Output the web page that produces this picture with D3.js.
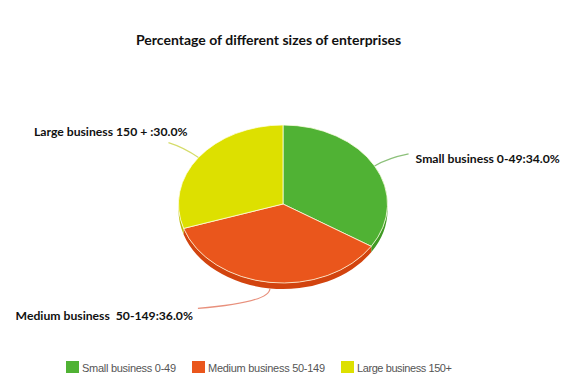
<!DOCTYPE html>
<html><head><meta charset="utf-8">
<script src="https://cdn.jsdelivr.net/npm/d3@7"></script>
<style>body{margin:0;background:#fff}svg{display:block}</style>
</head><body>
<svg id="c" width="569" height="385"></svg>
<script>
const categories = ["Small business 0-49", "Medium business 50-149", "Large business 150+"];
const values = [34, 36, 30];
const labelNames = ["Small business 0-49", "Medium business  50-149", "Large business 150 + "];
const title = "Percentage of different sizes of enterprises";
const topColors = ["#50b234", "#ea561c", "#dde000"];
const sideColors = ["#3f9a24", "#d2440f", "#b9bb00"];

const svg = d3.select("#c");
const cx = 283, cy = 204, rx = 104.5, ry = 79, depth = 6;

svg.append("text").attr("x", 136).attr("y", 45)
  .attr("font-family", "Lato, 'Open Sans', sans-serif").attr("font-weight", "bold")
  .attr("font-size", 14).attr("fill", "#111").text(title);

const color = d3.scaleOrdinal().domain(categories).range(topColors);
const side = d3.scaleOrdinal().domain(categories).range(sideColors);
const pie = d3.pie().sort(null).value(d => d.v);
const data = categories.map((c, i) => ({c, v: values[i], name: labelNames[i]}));
const arcs = pie(data);

const px = a => cx + rx * Math.sin(a);
const py = (a, dy = 0) => cy - ry * Math.cos(a) + dy;

function topPath(d) {
  const a0 = d.startAngle, a1 = d.endAngle;
  const large = (a1 - a0) > Math.PI ? 1 : 0;
  return `M${cx},${cy}L${px(a0)},${py(a0)}A${rx},${ry} 0 ${large} 1 ${px(a1)},${py(a1)}Z`;
}
function sidePath(d) {
  const a0 = Math.max(d.startAngle, Math.PI / 2), a1 = Math.min(d.endAngle, 3 * Math.PI / 2);
  if (a1 <= a0) return null;
  const large = (a1 - a0) > Math.PI ? 1 : 0;
  return `M${px(a0)},${py(a0)}A${rx},${ry} 0 ${large} 1 ${px(a1)},${py(a1)}` +
    `L${px(a1)},${py(a1, depth)}A${rx},${ry} 0 ${large} 0 ${px(a0)},${py(a0, depth)}Z`;
}

const g = svg.append("g");
g.selectAll("path.side").data(arcs.filter(d => sidePath(d))).join("path")
  .attr("class", "side").attr("d", sidePath).attr("fill", d => side(d.data.c));
g.selectAll("path.top").data(arcs).join("path")
  .attr("class", "top").attr("d", topPath).attr("fill", d => color(d.data.c))
  .attr("stroke", "rgba(255,255,230,0.75)").attr("stroke-width", 1).attr("stroke-linejoin", "round");

// leader lines and labels
const lineColors = ["#8cc07a", "#e8907c", "#d5dc6a"];
const layouts = [
  {dx1: 14, dy1: -8, dx2: 34, dy2: -12, tx: 7, ty: 9, anchor: "start"},
  {dx1: 0, dy1: 14, dx2: -72, dy2: 20, tx: -5, ty: 12, anchor: "end"},
  {dx1: -14, dy1: -10, dx2: -30, dy2: -15, tx: 19, ty: -7, anchor: "end"}
];
arcs.forEach((d, i) => {
  const m = (d.startAngle + d.endAngle) / 2;
  const dd = Math.cos(m) < 0 ? depth : 0;
  const sx = px(m), sy = py(m, dd);
  const L = layouts[i];
  const ex = sx + L.dx2, ey = sy + L.dy2;
  svg.append("path")
    .attr("d", `M${sx},${sy}Q${sx + L.dx1},${sy + L.dy1} ${ex},${ey}`)
    .attr("fill", "none").attr("stroke", lineColors[i]).attr("stroke-width", 1.2);
  svg.append("text").attr("x", ex + L.tx).attr("y", ey + L.ty)
    .attr("text-anchor", L.anchor)
    .attr("font-family", "Lato, 'Open Sans', sans-serif").attr("font-weight", "bold")
    .attr("font-size", 12.2).attr("fill", "#111")
    .style("white-space", "pre")
    .text(d.data.name + ":" + d.data.v.toFixed(1) + "%");
});

// legend (fixed text widths so layout does not depend on font metrics)
const legendTextWidths = [94, 117, 95];
const lg = svg.append("g").attr("transform", "translate(66,361)");
let x = 0;
categories.forEach((c, i) => {
  const item = lg.append("g").attr("transform", `translate(${x},0)`);
  item.append("rect").attr("width", 13).attr("height", 12).attr("fill", color(c));
  item.append("text").attr("x", 16).attr("y", 10.5)
    .attr("font-family", "'Liberation Sans', Arial, sans-serif").attr("font-size", 11)
    .attr("textLength", legendTextWidths[i]).attr("lengthAdjust", "spacing")
    .attr("fill", "#555").text(c);
  x += 16 + legendTextWidths[i] + 16;
});
</script>
</body></html>
